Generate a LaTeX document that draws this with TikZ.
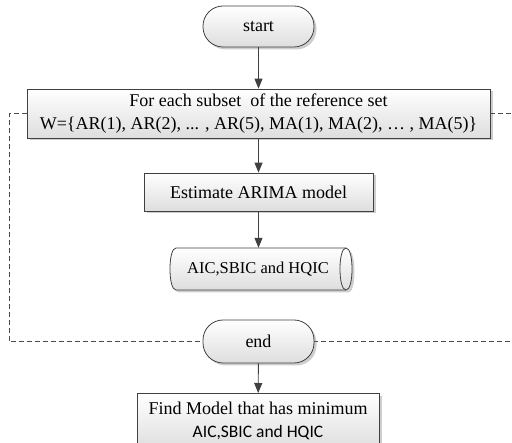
\documentclass[tikz,border=0pt]{standalone}
\usepackage{fontspec}
\setmainfont{Liberation Serif}
\newfontfamily\calibri{Carlito}
\usetikzlibrary{arrows.meta,shadows}

\begin{document}
\begin{tikzpicture}[x=1pt,y=-1pt,
  every node/.style={font=\fontsize{18}{23}\selectfont, inner sep=0pt},
  shade/.style={draw=black!75, line width=0.8pt, top color=white, bottom color=black!13,
    drop shadow={shadow xshift=2.5pt, shadow yshift=-2.5pt, opacity=0.35, fill=black!55}},
  box/.style={shade, rectangle},
  term/.style={shade, rectangle, rounded corners=20pt, minimum width=111pt},
  arr/.style={draw=black!75, line width=0.9pt, -{Triangle[length=10pt,width=8pt]}},
  loopline/.style={draw=black!70, line width=0.8pt, dash pattern=on 5pt off 3pt}
]
\path[use as bounding box, clip] (0,0) rectangle (512,443);

% stored-data symbol (horizontal cylinder) behind its label
\path[shade] (176,248) -- (346,248)
  .. controls (350,248) and (352,258) .. (352,269)
  .. controls (352,280) and (350,290) .. (346,290) -- (176,290)
  .. controls (172,290) and (170,280) .. (170,269)
  .. controls (170,258) and (172,248) .. (176,248) -- cycle;
\draw[draw=black!75, line width=0.8pt] (346,248)
  .. controls (342,248) and (340,258) .. (340,269)
  .. controls (340,280) and (342,290) .. (346,290);

% flowchart nodes
\node[term, minimum height=41pt] (start) at (258.5,26.5) {start};
\node[box, minimum width=463pt, minimum height=49pt, align=center] (subset) at (258.5,113.5)
  {For each subset\ \ of the reference set\\ W=\{AR(1), AR(2), ... , AR(5), MA(1), MA(2), … , MA(5)\}};
\node[box, minimum width=229pt, minimum height=38pt] (est) at (258.5,192) {Estimate ARIMA model};
\node[minimum width=182pt, minimum height=42pt, font=\fontsize{16.5}{20}\selectfont] (crit) at (258,269) {AIC,SBIC and HQIC};
\node[term, minimum height=43pt] (end) at (258.5,341.5) {end};
\node[box, minimum width=242pt, minimum height=56pt, anchor=north, align=center] (find) at (258,393)
  {Find Model that has minimum\\{\calibri\fontsize{17.5}{21}\selectfont AIC,SBIC and HQIC}};

% main flow
\draw[arr] (start) -- (subset);
\draw[arr] (subset) -- (est);
\draw[arr] (est) -- (est |- crit.north);
\draw[arr] (end) -- (find);

% loop bracket
\draw[loopline] (subset.west) -- (9,113.5) |- (end.west);
\draw[loopline] (subset.east) -- (530,113.5) |- (end.east);
\end{tikzpicture}
\end{document}
